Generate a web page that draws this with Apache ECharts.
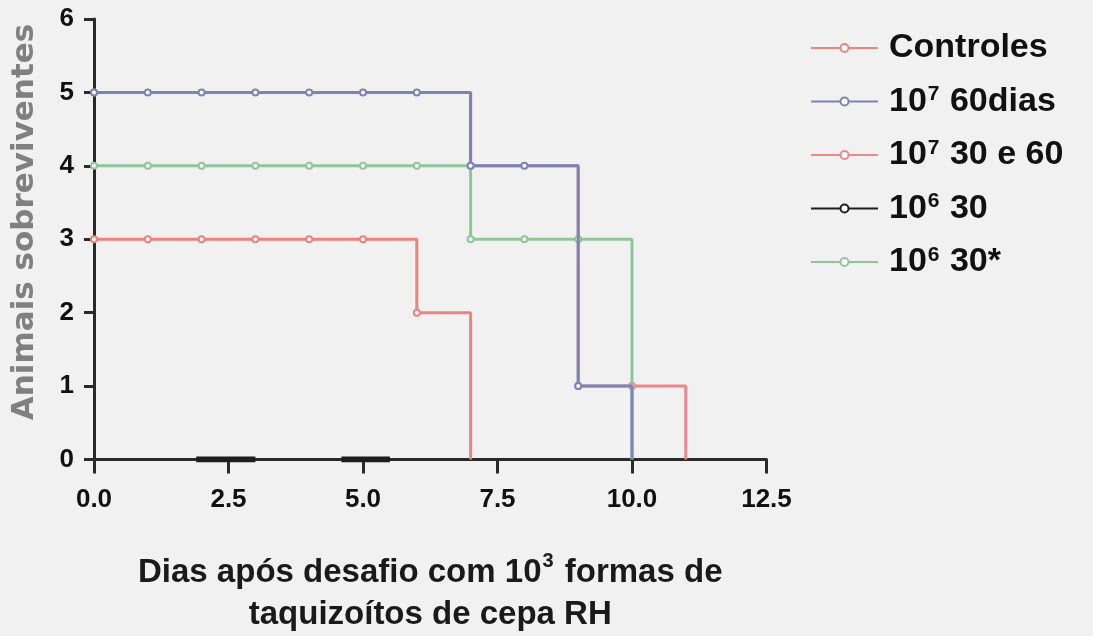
<!DOCTYPE html>
<html>
<head>
<meta charset="utf-8">
<script src="https://cdn.jsdelivr.net/npm/echarts@6/dist/echarts.min.js"></script>
<style>
html,body{margin:0;padding:0;background:#f1f1f1;}
#chart{width:1093px;height:636px;}
</style>
</head>
<body>
<div id="chart"></div>
<script>
// ---- data ----
const seriesNames = ['Controles', '10^7 60dias', '10^7 30 e 60', '10^6 30', '10^6 30*'];
const controlesDays = [0, 1, 2, 3, 4, 5, 6, 7];
const controlesVals = [3, 3, 3, 3, 3, 3, 2, 0];
const d60Days = [0, 1, 2, 3, 4, 5, 6, 7, 8, 9, 10];
const d60Vals = [5, 5, 5, 5, 5, 5, 5, 4, 4, 1, 0];
const d3060Days = [0, 7, 9, 10, 11];
const d3060Vals = [5, 4, 1, 1, 0];
const d6Days = [1.9, 3.0, null, 4.6, 5.5];
const d6Vals = [0, 0, null, 0, 0];
const d6sDays = [0, 1, 2, 3, 4, 5, 6, 7, 8, 9, 10];
const d6sVals = [4, 4, 4, 4, 4, 4, 4, 3, 3, 3, 0];
const xTicks = [0, 2.5, 5, 7.5, 10, 12.5];
const yTicks = [0, 1, 2, 3, 4, 5, 6];
const yTitle = 'Animais sobreviventes';

function pts(days, vals, markers) {
  return days.map((d, i) => {
    if (d === null) return '-';
    const item = { value: [d, vals[i]] };
    if (!markers || vals[i] === 0) item.symbol = 'none';
    return item;
  });
}

const colors = ['#ec837d', '#7c84b6', '#ee8690', '#1e1e1e', '#8fc699'];
const chart = echarts.init(document.getElementById('chart'));
const mk = (name, data, color, z, step) => ({
  name: name, type: 'line', step: step === false ? false : 'end', data: data, z: z,
  symbol: 'emptyCircle', symbolSize: 6,
  lineStyle: { color: color, width: name === '10^6 30' ? 6 : 3 },
  itemStyle: { color: color, borderColor: color, borderWidth: 1.5 },
  animation: false
});

chart.setOption({
  backgroundColor: '#f1f1f1',
  animation: false,
  grid: { left: 94, right: 326.5, top: 19, bottom: 172, containLabel: false },
  legend: {
    orient: 'vertical', left: 810, top: 31, padding: 0,
    itemWidth: 67, itemHeight: 10, itemGap: 19,
    data: seriesNames,
    formatter: n => '{b|' + n.replace(/\^(\d)/, '}{sup|$1}{b|') + '}',
    textStyle: {
      padding: [0, 0, 0, 6],
      rich: {
        b: { fontFamily: 'Liberation Sans', fontWeight: 'bold', fontSize: 34, color: '#111', lineHeight: 35 },
        sup: { fontFamily: 'Liberation Sans', fontWeight: 'bold', fontSize: 21, color: '#111', verticalAlign: 'top', lineHeight: 35, padding: [0, 1, 12, 1] }
      }
    }
  },
  graphic: [{
    type: 'text', x: 25, y: 222, rotation: Math.PI / 2,
    style: { text: yTitle, fontFamily: 'DejaVu Sans', fontWeight: 'bold', fontSize: 31, fill: '#808080', textAlign: 'center', textVerticalAlign: 'middle' }
  }],
  xAxis: {
    type: 'value', min: xTicks[0], max: xTicks[xTicks.length - 1], interval: 2.5,
    axisLine: { show: true, onZero: false, lineStyle: { color: '#2a2a2a', width: 3 } },
    axisTick: { show: true, length: 14, lineStyle: { color: '#2a2a2a', width: 3 } },
    splitLine: { show: false },
    axisLabel: { margin: 27, formatter: v => v.toFixed(1), fontFamily: 'Liberation Sans', fontWeight: 'bold', fontSize: 26, color: '#111' },
    name: '{t|Dias após desafio com 10}{s|3}{t| formas de}\n{t|taquizoítos de cepa RH}',
    nameLocation: 'middle', nameGap: 92,
    nameTextStyle: {
      align: 'center',
      rich: {
        t: { fontFamily: 'Liberation Sans', fontWeight: 'bold', fontSize: 33, color: '#1a1a1a', lineHeight: 42 },
        s: { fontFamily: 'Liberation Sans', fontWeight: 'bold', fontSize: 20, color: '#1a1a1a', verticalAlign: 'top', lineHeight: 42, padding: [0, 2, 12, 1] }
      }
    }
  },
  yAxis: {
    type: 'value', min: yTicks[0], max: yTicks[yTicks.length - 1], interval: 1,
    axisLine: { show: true, lineStyle: { color: '#2a2a2a', width: 3 } },
    axisTick: { show: true, length: 10, lineStyle: { color: '#2a2a2a', width: 3 } },
    splitLine: { show: false },
    axisLabel: { margin: 20, fontFamily: 'Liberation Sans', fontWeight: 'bold', fontSize: 26, color: '#111' }
  },
  series: [
    mk(seriesNames[2], pts(d3060Days, d3060Vals, true), colors[2], 2),
    mk(seriesNames[0], pts(controlesDays, controlesVals, true), colors[0], 3),
    mk(seriesNames[1], pts(d60Days, d60Vals, true), colors[1], 5),
    mk(seriesNames[4], pts(d6sDays, d6sVals, true), colors[4], 4),
    mk(seriesNames[3], pts(d6Days, d6Vals, false), colors[3], 6, false)
  ]
});
</script>
</body>
</html>
